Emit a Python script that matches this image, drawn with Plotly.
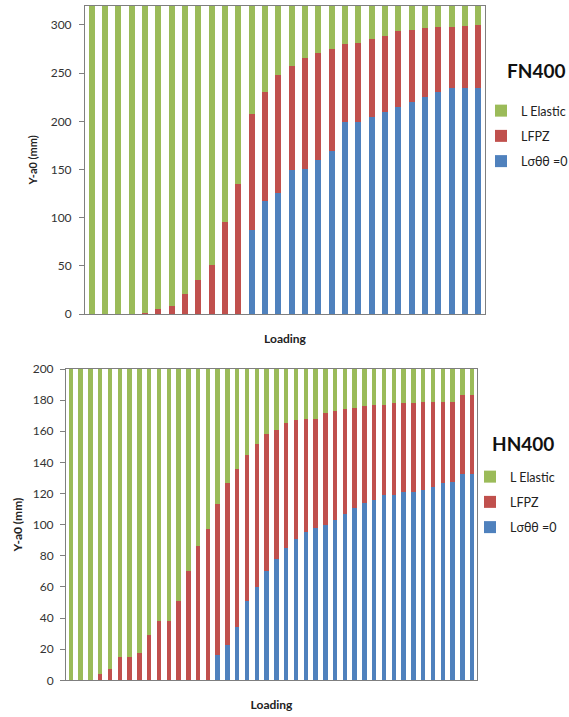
import plotly.graph_objects as go

# ---------------- FN400 (top) ----------------
fn_loading = list(range(1, 31))
fn_lo = [0, 0, 0, 0, 0, 0, 0, 0, 0, 0, 0, 0,
         87, 117, 126, 149, 151, 160, 169, 199, 199, 205, 210, 215, 220, 225, 230, 235, 235, 235]
fn_lfpz = [0, 0, 0, 0, 1.5, 5, 8, 21, 35, 51, 95, 135,
           121, 113, 122, 108, 115, 111, 106, 81, 82, 80, 79, 79, 75, 72, 68, 63, 64, 65]
fn_elastic = [320, 320, 320, 320, 318.5, 315, 312, 299, 285, 269, 225, 185,
              112, 90, 72, 63, 54, 49, 45, 40, 39, 35, 31, 26, 25, 23, 22, 22, 21, 20]

# ---------------- HN400 (bottom) ----------------
hn_loading = list(range(1, 43))
hn_lo = [0] * 15 + [16, 23, 34, 51, 60, 70, 78, 85, 91, 95, 98, 100, 103, 107, 111, 114,
                    116, 119, 119, 121, 121, 122.5, 124, 126.5, 127.5, 132.5, 132.5]
hn_lfpz = [0, 0, 0, 4, 7, 15, 15, 17.5, 29, 38, 38, 51, 70, 86, 97,
           97, 104, 102, 94, 92, 88, 83, 80, 76, 73, 70, 72, 70, 67, 64, 62,
           61, 58, 59, 57, 57, 56.5, 55, 52.5, 51.5, 50.5, 50.5]
hn_elastic = [200, 200, 200, 196, 193, 185, 185, 182.5, 171, 162, 162, 149, 130, 114, 103,
              87, 73, 64, 55, 48, 42, 39, 35, 33, 32, 32, 28, 27, 26, 25, 24,
              23, 23, 22, 22, 22, 21, 21, 21, 21, 17, 17]

series_names = ["Lσθθ =0", "LFPZ", "L Elastic"]
colors = ["#4F81BD", "#C0504D", "#9BBB59"]
ranks = [3, 2, 1]

FONT = "Lato"
W, H = 569, 717

fig = go.Figure()

for name, col, rk, vals in zip(series_names, colors, ranks, [fn_lo, fn_lfpz, fn_elastic]):
    fig.add_trace(go.Bar(x=fn_loading, y=vals, name=name, marker_color=col,
                         marker_line_width=0, xaxis="x", yaxis="y", legendrank=rk,
                         legend="legend", legendgroup="fn" + name))
for name, col, rk, vals in zip(series_names, colors, ranks, [hn_lo, hn_lfpz, hn_elastic]):
    fig.add_trace(go.Bar(x=hn_loading, y=vals, name=name, marker_color=col,
                         marker_line_width=0, xaxis="x2", yaxis="y2", legendrank=rk,
                         legend="legend2", legendgroup="hn" + name))

axis_common = dict(showline=True, linecolor="#7f7f7f", linewidth=1, mirror=True,
                   showgrid=False, zeroline=False, automargin=False)

fig.update_layout(
    width=W, height=H,
    margin=dict(l=0, r=0, t=0, b=0, autoexpand=False),
    paper_bgcolor="white", plot_bgcolor="white",
    barmode="stack",
    bargap=0.55,
    font=dict(family=FONT, size=12, color="#333333"),
    xaxis=dict(domain=[85 / W, 485 / W], anchor="y", range=[0.5, 30.5],
               showticklabels=False, ticks="",
               title=dict(text="<b>Loading</b>", font=dict(size=12, color="#222"), standoff=20),
               **axis_common),
    yaxis=dict(domain=[1 - 314 / H, 1 - 5.7 / H], anchor="x", range=[0, 320],
               tickvals=[0, 50, 100, 150, 200, 250, 300], ticks="outside", ticklen=5,
               ticklabelstandoff=5,
               tickcolor="#7f7f7f", tickfont=dict(size=12, color="#333"),
               title=dict(text="<b>Y-a0 (mm)</b>", font=dict(size=11, color="#222"), standoff=10),
               **axis_common),
    xaxis2=dict(domain=[66 / W, 477 / W], anchor="y2", range=[0.5, 42.5],
                showticklabels=False, ticks="",
                title=dict(text="<b>Loading</b>", font=dict(size=12, color="#222"), standoff=20),
                **axis_common),
    yaxis2=dict(domain=[1 - 680.3 / H, 1 - 369 / H], anchor="x2", range=[0, 200],
                dtick=20, ticks="outside", ticklen=5,
                ticklabelstandoff=4,
                tickcolor="#7f7f7f", tickfont=dict(size=12, color="#333"),
                title=dict(text="<b>Y-a0 (mm)</b>", font=dict(size=12, color="#222"), standoff=7),
                **axis_common),
    legend=dict(x=481 / W, xanchor="left", y=1 - 96 / H, yanchor="top",
                traceorder="grouped", tracegroupgap=6,
                bgcolor="rgba(0,0,0,0)", font=dict(size=12.5, color="#222")),
    legend2=dict(x=470 / W, xanchor="left", y=1 - 462 / H, yanchor="top",
                 traceorder="grouped", tracegroupgap=6,
                 bgcolor="rgba(0,0,0,0)", font=dict(size=12.5, color="#222")),
    annotations=[
        dict(text="<b>FN400</b>", x=536 / W, y=1 - 70 / H, xref="paper", yref="paper",
             xanchor="center", yanchor="middle",
             showarrow=False, font=dict(size=19, color="#111")),
        dict(text="<b>HN400</b>", x=523 / W, y=1 - 444 / H, xref="paper", yref="paper",
             xanchor="center", yanchor="middle",
             showarrow=False, font=dict(size=19, color="#111")),
    ],
)

fig.write_html("out.html", config={"displayModeBar": False},
               post_script="document.body.style.margin='0';")
